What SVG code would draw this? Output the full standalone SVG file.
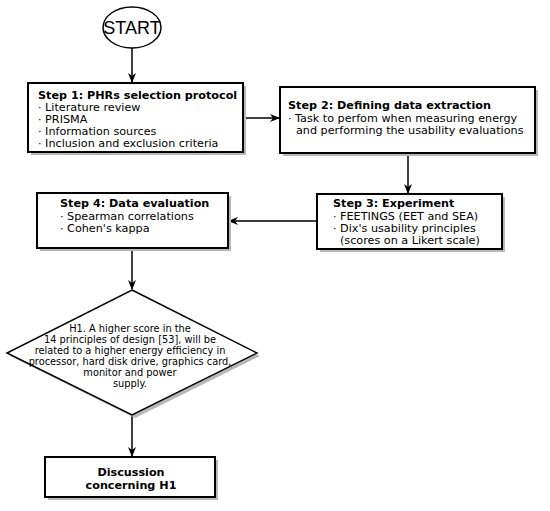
<svg xmlns="http://www.w3.org/2000/svg" width="550" height="511" viewBox="0 0 550 511">
<style>
.box{fill:#fff;stroke:#000;stroke-width:2}
.sh{fill:#b8b8b8}
.t{font-family:"DejaVu Sans",Verdana,sans-serif;font-size:11.2px;fill:#000}
.b{font-weight:bold}
.h{font-family:"DejaVu Sans",Verdana,sans-serif;font-size:9.8px;fill:#000}
.c{stroke:#000;stroke-width:1.5;fill:none}
</style>
<defs>
<marker id="ah" markerWidth="10" markerHeight="8" refX="9" refY="4" orient="auto" markerUnits="userSpaceOnUse">
<path d="M0,0 L10,4 L0,8 L3,4 Z" fill="#000"/>
</marker>
</defs>
<rect width="550" height="511" fill="#fff"/>
<g id="connectors">
<line class="c" x1="132" y1="48" x2="132" y2="82" marker-end="url(#ah)"/>
<line class="c" x1="243" y1="118" x2="279" y2="118" marker-end="url(#ah)"/>
<line class="c" x1="408" y1="153" x2="408" y2="193" marker-end="url(#ah)"/>
<line class="c" x1="317" y1="221" x2="229" y2="221" marker-end="url(#ah)"/>
<line class="c" x1="132" y1="248" x2="132" y2="289" marker-end="url(#ah)"/>
<line class="c" x1="132" y1="415" x2="132" y2="456" marker-end="url(#ah)"/>
</g>
<g id="start">
<ellipse cx="132" cy="27.5" rx="29" ry="20.5" fill="#fff" stroke="#000" stroke-width="1.5"/>
<text x="132" y="34" text-anchor="middle" font-family="'Liberation Sans',Arial,sans-serif" font-size="18" fill="#000">START</text>
</g>
<g id="step1">
<rect class="sh" x="31" y="86" width="215" height="69"/>
<rect class="box" x="28" y="83" width="215" height="69"/>
<text class="t" x="38" y="99"><tspan class="b">Step 1: PHRs selection protocol</tspan><tspan x="38" y="111">· Literature review</tspan><tspan x="38" y="123">· PRISMA</tspan><tspan x="38" y="135">· Information sources</tspan><tspan x="38" y="147">· Inclusion and exclusion criteria</tspan></text>
</g>
<g id="step2">
<rect class="sh" x="283" y="90" width="255" height="66"/>
<rect class="box" x="280" y="87" width="255" height="66"/>
<text class="t" x="288" y="109"><tspan class="b">Step 2: Defining data extraction</tspan><tspan x="288" y="122">· Task to perfom when measuring energy</tspan><tspan x="296" y="134">and performing the usability evaluations</tspan></text>
</g>
<g id="step3">
<rect class="sh" x="320" y="197" width="185" height="55"/>
<rect class="box" x="317" y="194" width="185" height="55"/>
<text class="t" x="333" y="207"><tspan class="b">Step 3: Experiment</tspan><tspan x="333" y="220">· FEETINGS (EET and SEA)</tspan><tspan x="333" y="232">· Dix's usability principles</tspan><tspan x="340" y="244">(scores on a Likert scale)</tspan></text>
</g>
<g id="step4">
<rect class="sh" x="40" y="196" width="191" height="55"/>
<rect class="box" x="37" y="193" width="191" height="55"/>
<text class="t" x="60" y="207"><tspan class="b">Step 4: Data evaluation</tspan><tspan x="60" y="220">· Spearman correlations</tspan><tspan x="60" y="232">· Cohen's kappa</tspan></text>
</g>
<g id="h1">
<polygon points="135,293 260,356 135,418 10,356" fill="#b8b8b8"/>
<polygon points="132,290 257,353 132,415 7,353" fill="#fff" stroke="#000" stroke-width="1.5"/>
<text class="h" text-anchor="middle" x="130" y="332"><tspan x="130" y="332">H1. A higher score in the</tspan><tspan x="130" y="343">14 principles of design [53], will be</tspan><tspan x="130" y="354">related to a higher energy efficiency in</tspan><tspan x="130" y="365">processor, hard disk drive, graphics card,</tspan><tspan x="130" y="376">monitor and power</tspan><tspan x="130" y="387">supply.</tspan></text>
</g>
<g id="discussion">
<rect class="sh" x="48" y="460" width="170" height="40"/>
<rect class="box" x="45" y="457" width="170" height="40"/>
<text class="t b" text-anchor="middle" x="131" y="476"><tspan x="131" y="476">Discussion</tspan><tspan x="131" y="489">concerning H1</tspan></text>
</g>
</svg>
